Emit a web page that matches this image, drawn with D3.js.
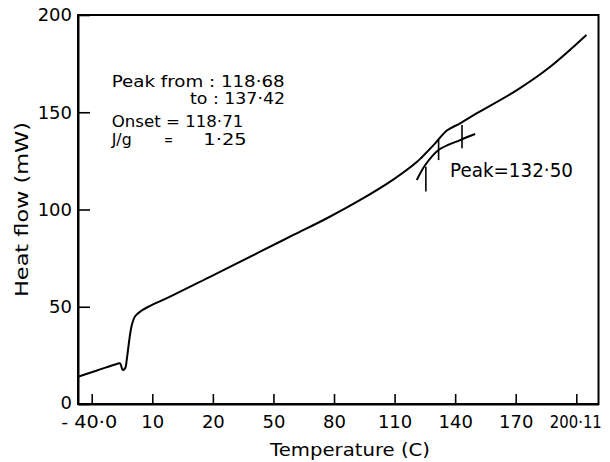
<!DOCTYPE html>
<html>
<head>
<meta charset="utf-8">
<script src="https://cdn.jsdelivr.net/npm/d3@7"></script>
<style>
  html, body { margin: 0; padding: 0; background: #fff; }
  svg { display: block; }
  text { font-family: "DejaVu Sans", sans-serif; fill: #000; }
</style>
</head>
<body>
<svg id="chart" width="610" height="462"></svg>
<script>
// ---- data ----
const mainTemp = [-46.8, -37.4, -27.6, -26.0, -24.6, -23.5, -22.5, -21.4, -20.2, -18.6, -15.6, -11.4, -1.2, 18.6, 43.4, 59.9, 76.5, 93.0, 109.5, 121.0, 123.5, 130.1, 135.9, 142.5, 150.8, 170.6, 187.1, 205.0];
const mainHeat = [14.0, 17.2, 20.6, 20.9, 17.5, 18.3, 24.0, 32.9, 40.4, 45.0, 47.8, 50.3, 55.2, 65.4, 78.3, 86.9, 95.5, 104.9, 115.5, 124.4, 126.9, 134.0, 140.6, 144.3, 149.5, 161.4, 173.4, 189.7];
const baseTemp = [121.0, 125.2, 131.8, 142.5, 149.9];
const baseHeat = [115.2, 122.9, 130.6, 135.7, 138.8];
const markTemp = [125.5, 131.8, 143.4];
const markLow  = [109.2, 125.4, 131.5];
const markHigh = [122.0, 135.7, 143.4];
const xTickValues = [-40, -10, 20, 50, 80, 110, 140, 170, 200];
const xTickLabels = ["- 40·0", "10", "20", "50", "80", "110", "140", "170", "200·11"];
const yTickValues = [0, 50, 100, 150, 200];
const xTitle = "Temperature (C)";
const yTitle = "Heat flow (mW)";
const notes = ["Peak from : 118·68", "to : 137·42", "Onset = 118·71", "J/g", "=", "1·25"];
const peakNote = "Peak=132·50";

// ---- layout ----
const svg = d3.select("#chart");
const L = 78, R = 598.5, T = 15, B = 404;
const x = d3.scaleLinear().domain([-46.8, 211]).range([L, R]);
const y = d3.scaleLinear().domain([0, 200]).range([B, T]);

// frame
svg.append("rect").attr("x", L).attr("y", T).attr("width", R - L).attr("height", B - T)
  .attr("fill", "none").attr("stroke", "#000").attr("stroke-width", 2);

// x axis
const gx = svg.append("g").attr("transform", `translate(0,${B})`)
  .call(d3.axisBottom(x).tickValues(xTickValues).tickFormat((d, i) => xTickLabels[i])
    .tickSizeInner(-10).tickSizeOuter(0).tickPadding(11.5));
gx.select(".domain").attr("stroke", "#000").attr("stroke-width", 2);
gx.selectAll(".tick line").attr("stroke", "#000").attr("stroke-width", 1.6);
gx.selectAll(".tick text").attr("font-size", 18).attr("font-family", "DejaVu Sans");
gx.selectAll(".tick text").filter((d, i) => i === 0).attr("dx", -3)
  .attr("textLength", 56).attr("lengthAdjust", "spacingAndGlyphs");
gx.selectAll(".tick text").filter((d, i) => i === xTickLabels.length - 1).attr("dx", -1)
  .attr("font-size", 17).attr("textLength", 52).attr("lengthAdjust", "spacingAndGlyphs");

// y axis
const gy = svg.append("g").attr("transform", `translate(${L},0)`)
  .call(d3.axisLeft(y).tickValues(yTickValues).tickSizeInner(-12).tickSizeOuter(0).tickPadding(6));
gy.select(".domain").attr("stroke", "#000").attr("stroke-width", 2);
gy.selectAll(".tick line").attr("stroke", "#000").attr("stroke-width", 1.6);
gy.selectAll(".tick text").attr("font-size", 18).attr("font-family", "DejaVu Sans");
gy.selectAll(".tick text").filter(d => d === 0).attr("dy", "0.25em");

// axis titles
svg.append("text").attr("x", 350).attr("y", 456).attr("text-anchor", "middle")
  .attr("font-size", 18).attr("textLength", 160).attr("lengthAdjust", "spacingAndGlyphs").text(xTitle);
svg.append("text").attr("transform", `translate(28,${(T + B) / 2}) rotate(-90)`)
  .attr("text-anchor", "middle").attr("font-size", 17)
  .attr("textLength", 175).attr("lengthAdjust", "spacingAndGlyphs").text(yTitle);

// curves
const line = d3.line().x(d => x(d[0])).y(d => y(d[1])).curve(d3.curveCatmullRom.alpha(0.5));
svg.append("path").datum(d3.zip(mainTemp, mainHeat)).attr("d", line)
  .attr("fill", "none").attr("stroke", "#000").attr("stroke-width", 2);
svg.append("path").datum(d3.zip(baseTemp, baseHeat)).attr("d", line)
  .attr("fill", "none").attr("stroke", "#000").attr("stroke-width", 2);

// peak markers
svg.selectAll(".mark").data(d3.zip(markTemp, markLow, markHigh)).join("line")
  .attr("x1", d => x(d[0])).attr("x2", d => x(d[0]))
  .attr("y1", d => y(d[1])).attr("y2", d => y(d[2]))
  .attr("stroke", "#000").attr("stroke-width", 1.6);

// annotations
const fs = 16;
function note(txt, xx, yy, len, anchor) {
  const t = svg.append("text").attr("x", xx).attr("y", yy).attr("font-size", fs)
    .attr("text-anchor", anchor || "start").text(txt);
  if (len) t.attr("textLength", len).attr("lengthAdjust", "spacingAndGlyphs");
  return t;
}
note(notes[0], 111.7, 86.7, 173);
note(notes[1], 190, 103.5, 95);
note(notes[2], 111.7, 126.7, 131.6);
note(notes[3], 111.7, 145, 20);
note(notes[4], 164, 145, 9);
note(notes[5], 203.3, 145, 43.4);
svg.append("text").attr("x", 450).attr("y", 176.7).attr("font-size", 19)
  .attr("textLength", 123).attr("lengthAdjust", "spacingAndGlyphs").text(peakNote);
</script>
</body>
</html>
